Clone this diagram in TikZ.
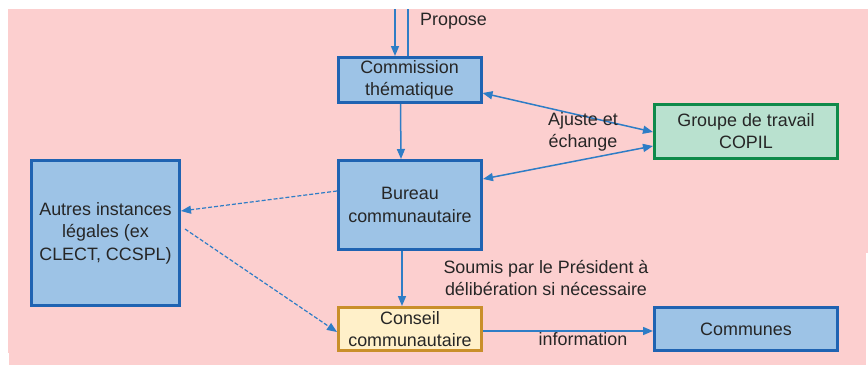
\documentclass[tikz,border=0pt]{standalone}
\usepackage{fontspec}
\setmainfont{Liberation Sans}
\usetikzlibrary{arrows.meta}
\definecolor{bgpink}{HTML}{FCCFCF}
\definecolor{boxblue}{HTML}{9DC3E6}
\definecolor{edgeblue}{HTML}{1F63B2}
\definecolor{arrblue}{HTML}{2E7DC6}
\definecolor{boxgreen}{HTML}{B9E1CF}
\definecolor{edgegreen}{HTML}{0E8A4A}
\definecolor{boxyellow}{HTML}{FFF0C9}
\definecolor{edgeorange}{HTML}{C98F2A}
\definecolor{txt}{HTML}{262626}
\begin{document}
\begin{tikzpicture}[x=1pt,y=-1pt,
  every node/.style={font=\fontsize{17.9}{22.5}\selectfont, text=txt},
  box/.style={draw=edgeblue, fill=boxblue, line width=3pt, align=center, inner sep=0pt},
  arr/.style={draw=arrblue, line width=1.5pt, -{Triangle[width=8pt,length=10pt]}},
  darr/.style={draw=arrblue, line width=1.5pt, {Triangle[width=8pt,length=10pt]}-{Triangle[width=8pt,length=10pt]}},
  dasharr/.style={draw=arrblue, line width=1.2pt, dash pattern=on 4pt off 2pt, -{Triangle[width=8pt,length=10pt]}},
  lbl/.style={align=center, inner sep=0pt}]
\useasboundingbox (0,0) rectangle (868,365);
\fill[bgpink] (8,9) rectangle (868,365);
\fill[white] (866,253) rectangle (868,365);
\fill[white] (0,353) rectangle (9,365);

\node[box, minimum width=143pt, minimum height=45pt] (comm) at (409.5,80) {Commission\\th\'ematique};
\node[box, minimum width=143pt, minimum height=89pt] (bureau) at (410,205) {Bureau\\communautaire};
\node[box, draw=edgeorange, fill=boxyellow, minimum width=143pt, minimum height=43pt] (conseil) at (410,329) {Conseil\\communautaire};
\node[box, draw=edgegreen, fill=boxgreen, minimum width=183pt, minimum height=54pt] (groupe) at (746,131) {Groupe de travail\\COPIL};
\node[box, minimum width=148pt, minimum height=145pt] (autres) at (105.5,233) {Autres instances\\l\'egales (ex\\CLECT, CCSPL)};
\node[box, minimum width=183pt, minimum height=43pt] (communes) at (746,329) {Communes};

\coordinate (t1) at (395,9);
\coordinate (t2) at (408,9);
\draw[arr] (t1) -- (t1 |- comm.north);
\draw[draw=arrblue, line width=1.8pt] (t2) -- (t2 |- comm.north);
\node[lbl, anchor=west] (propose) at (420,21) {Propose};

\draw[arr] ([xshift=-9pt]comm.south) -- ([xshift=-9pt]bureau.north);
\draw[arr] ([xshift=-8pt]bureau.south) -- ([xshift=-8pt]conseil.north);
\draw[darr] ([yshift=-13pt]comm.east) -- ([yshift=-1pt]groupe.west);
\draw[darr] ([yshift=26pt]bureau.east) -- ([yshift=-15pt]groupe.west);
\node[lbl] (ajuste) at (583,132) {Ajuste et\\\'echange};

\draw[dasharr] ([yshift=14pt]bureau.west) -- ([yshift=22pt]autres.east);
\draw[dasharr] ([xshift=4pt,yshift=4pt]autres.east) -- ([yshift=-3pt]conseil.west);

\node[lbl] (soumis) at (546,278) {Soumis par le Pr\'esident \`a\\d\'elib\'eration si n\'ecessaire};
\draw[arr] ([yshift=-2pt]conseil.east) -- ([yshift=-2pt]communes.west);
\node[lbl] (info) at (583,339) {information};
\end{tikzpicture}
\end{document}
